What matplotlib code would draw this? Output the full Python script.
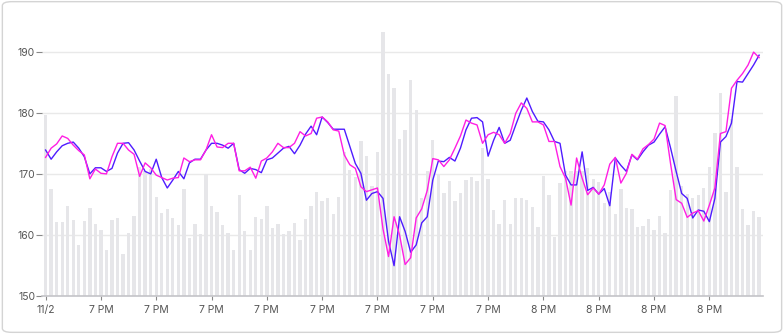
import matplotlib
matplotlib.use('Agg')
import matplotlib.pyplot as plt
from matplotlib.patches import FancyBboxPatch
import numpy as np

plt.rcParams['font.family'] = ['Inter', 'DejaVu Sans']

# volume bars (one per minute)
volume = [179.6, 167.5, 162.1, 162.1, 164.7, 162.4, 158.4, 162.3, 164.5, 161.8,
          160.9, 157.5, 162.5, 162.8, 156.9, 160.3, 163.2, 171.2, 170.5, 170.8,
          166.2, 163.6, 164.2, 162.8, 161.6, 167.6, 159.6, 161.8, 160.2, 170.0,
          164.7, 163.7, 161.7, 160.4, 157.6, 166.6, 160.7, 157.5, 162.9, 162.6,
          164.7, 161.1, 161.8, 160.2, 160.7, 161.9, 159.2, 162.7, 164.7, 167.1,
          165.6, 166.1, 163.5, 166.3, 173.6, 170.7, 169.5, 175.3, 173.0, 168.0,
          173.6, 193.2, 186.3, 184.1, 175.7, 177.2, 185.3, 180.4, 166.1, 170.4,
          175.5, 170.0, 166.8, 168.8, 165.5, 166.8, 169.0, 169.5, 168.9, 174.3,
          169.2, 164.1, 161.8, 165.8, 161.8, 166.0, 166.0, 165.8, 164.6, 161.3,
          169.6, 166.6, 159.7, 168.5, 170.4, 170.5, 170.5, 170.4, 170.9, 169.2,
          168.6, 165.2, 167.0, 163.5, 167.5, 164.5, 164.2, 161.3, 161.5, 162.6,
          160.8, 163.2, 160.4, 167.4, 182.7, 168.0, 166.7, 166.0, 166.5, 167.7,
          171.2, 176.7, 183.2, 167.1, 179.0, 171.2, 164.2, 161.6, 164.0, 162.9]

blue = [173.9, 172.4, 173.6, 174.6, 175.0, 175.2, 174.2, 172.8, 170.0, 171.0,
        171.0, 170.4, 170.9, 173.4, 175.0, 175.1, 173.9, 172.1, 170.4, 170.0,
        172.4, 169.4, 167.7, 169.0, 170.4, 169.2, 171.8, 172.4, 172.4, 173.9,
        175.0, 175.0, 174.7, 174.2, 175.0, 170.7, 170.1, 170.9, 170.7, 170.2,
        172.3, 172.6, 173.4, 174.2, 174.5, 173.3, 174.7, 176.5, 177.8, 176.4,
        179.3, 178.4, 177.3, 177.3, 177.3, 174.5, 171.7, 170.1, 165.7, 166.8,
        167.1, 166.0, 159.0, 155.0, 163.0, 160.6, 157.2, 158.4, 162.0, 163.0,
        169.0, 172.1, 172.0, 172.7, 172.1, 174.2, 177.2, 179.1, 179.2, 178.5,
        172.9, 175.5, 177.6, 175.0, 175.5, 178.0, 180.4, 182.4, 180.2, 178.6,
        178.5, 177.2, 175.3, 175.0, 169.8, 168.2, 168.2, 173.6, 167.3, 167.8,
        166.7, 167.6, 164.8, 172.6, 171.4, 170.4, 173.1, 172.3, 173.6, 174.7,
        175.2, 176.5, 177.7, 174.2, 170.4, 166.8, 166.0, 162.8, 164.1, 163.9,
        162.2, 166.0, 175.2, 176.1, 178.3, 185.1, 185.0, 186.4, 187.8, 189.4]

magenta = [172.7, 174.2, 174.9, 176.2, 175.8, 174.7, 173.8, 173.1, 169.2, 170.8,
           170.1, 170.0, 172.8, 175.0, 175.0, 173.9, 173.2, 169.6, 171.8, 171.0,
           169.8, 169.4, 169.0, 169.3, 169.4, 172.6, 172.0, 172.3, 172.3, 173.9,
           176.4, 174.4, 174.3, 175.0, 175.0, 170.5, 170.5, 171.1, 169.3, 172.1,
           172.6, 173.6, 175.0, 174.3, 174.3, 175.0, 176.9, 176.2, 176.6, 179.1,
           179.3, 178.5, 177.2, 177.0, 173.1, 171.5, 170.9, 167.9, 167.1, 167.4,
           167.7, 161.0, 156.5, 163.0, 160.0, 155.2, 156.3, 162.8, 164.3, 167.3,
           172.5, 172.3, 171.2, 172.3, 174.2, 176.2, 178.8, 178.3, 178.0, 175.0,
           176.4, 176.8, 176.4, 175.0, 176.6, 179.9, 181.6, 180.7, 178.5, 178.5,
           178.0, 175.3, 175.3, 171.2, 169.3, 164.9, 172.6, 169.3, 166.6, 167.7,
           166.7, 168.2, 171.6, 172.7, 168.5, 170.1, 173.2, 172.4, 174.1, 174.8,
           175.7, 178.3, 177.9, 171.6, 165.8, 165.2, 162.9, 163.6, 164.0, 162.3,
           164.9, 167.7, 176.6, 176.9, 184.0, 185.3, 186.4, 187.8, 189.9, 189.0]

tick_pos = list(range(0, 130, 10))
tick_labels = ['11/2'] + ['7 PM'] * 8 + ['8 PM'] * 4

x = np.arange(len(volume))
base = 150

fig = plt.figure(figsize=(7.84, 3.34), dpi=100)
ax = fig.add_axes([42 / 784, (334 - 296.3) / 334, 721 / 784, 275.4 / 334])

ax.bar(x, np.array(volume) - base, bottom=base, width=0.6, color='#e6e6e9', zorder=1)
ax.plot(x, blue, color='#4f1cff', lw=1.0, zorder=3)
ax.plot(x, magenta, color='#ff1fe3', lw=1.0, zorder=3)

ax.set_xlim(-0.65, 129.7)
ax.set_ylim(150, 195)
ax.set_yticks([150, 160, 170, 180, 190])
ax.set_xticks(tick_pos)
ax.set_xticklabels(tick_labels)
ax.grid(axis='y', color='#e9e9e9', lw=1, zorder=0)
ax.set_axisbelow(True)

for s in ['top', 'right', 'left']:
    ax.spines[s].set_visible(False)
ax.spines['bottom'].set_color('#c4c4c8')
ax.spines['bottom'].set_linewidth(1.2)
ax.tick_params(axis='y', length=4, width=0.8, color='#888888', labelsize=7.5,
               labelcolor='#555555', pad=1)
ax.tick_params(axis='x', length=3, width=0.8, color='#888888', labelsize=7.5,
               labelcolor='#555555', pad=3)

# card border
card = FancyBboxPatch((0.003, 0.005), 0.994, 0.99, boxstyle='round,pad=0,rounding_size=0.012',
                      transform=fig.transFigure, facecolor='none', edgecolor='#d4d4d4',
                      lw=1.0, zorder=-1)
fig.patches.append(card)

fig.savefig('out.png', dpi=100)
